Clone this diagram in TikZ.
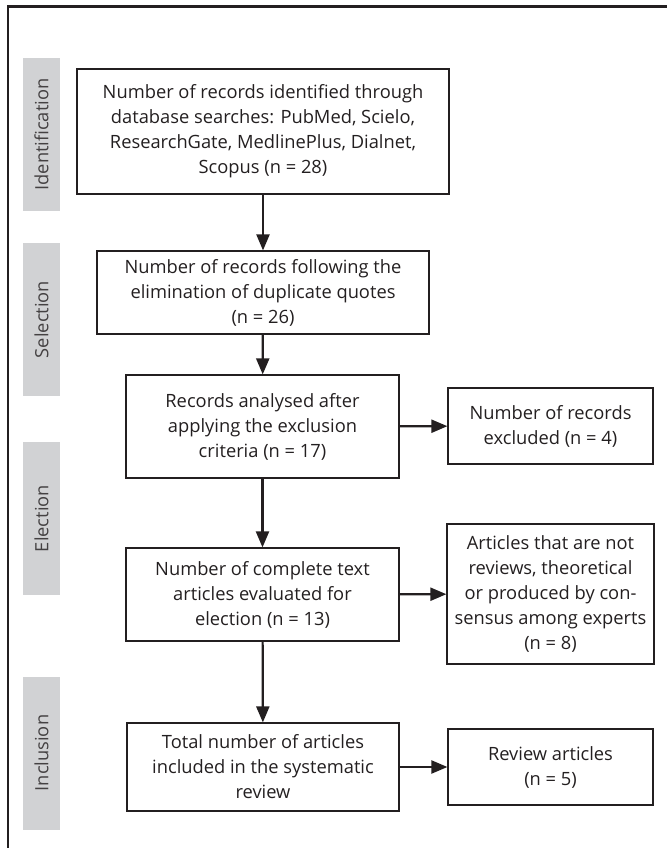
\documentclass[tikz,border=0pt]{standalone}
\usepackage{fontspec}
\setmainfont{Open Sans}
\usetikzlibrary{arrows.meta}
\definecolor{inkblack}{HTML}{231F20}
\definecolor{bargray}{HTML}{D1D2D4}
\tikzset{
  box/.style={draw=inkblack, line width=1.2pt, align=center, inner sep=0pt,
    text=inkblack, font=\fontsize{18.3}{25}\selectfont},
  phase/.style={fill=bargray, rotate=90, inner sep=0pt, minimum width=153pt,
    minimum height=37pt, text=inkblack!85, font=\fontsize{18.3}{25}\selectfont},
  flow/.style={-{Triangle[length=16pt,width=13pt]}, line width=2.2pt, draw=inkblack}
}
\begin{document}
\begin{tikzpicture}[x=1pt,y=-1pt]
  \useasboundingbox (0,0) rectangle (667,848);
  % frame
  \draw[inkblack, line width=2.5pt] (8,848) -- (8,6.5) -- (667,6.5);
  % phases
  \node[phase] (ident) at (41.5,134.5) {Identification};
  \node[phase] (select) at (41.5,319.5) {Selection};
  \node[phase] (elect) at (41.5,518.5) {Election};
  \node[phase] (incl) at (41.5,753) {Inclusion};
  % main column
  \node[box, minimum width=372pt, minimum height=125pt] (found) at (263,131.5)
    {Number of records identified through\\database searches: PubMed, Scielo,\\ResearchGate, MedlinePlus, Dialnet,\\Scopus (n = 28)};
  \node[box, minimum width=332pt, minimum height=83pt] (nodup) at (263,292.5)
    {Number of records following the\\elimination of duplicate quotes\\(n = 26)};
  \node[box, minimum width=273pt, minimum height=103pt] (screen) at (262.5,426.5)
    {Records analysed after\\applying the exclusion\\criteria (n = 17)};
  \node[box, minimum width=273pt, minimum height=93pt] (full) at (262.5,594.5)
    {Number of complete text\\articles evaluated for\\election (n = 13)};
  \node[box, minimum width=272pt, minimum height=88pt] (total) at (263,767)
    {Total number of articles\\included in the systematic\\review};
  % side column
  \node[box, minimum width=205pt, minimum height=76pt] (excl) at (550.5,426)
    {Number of records\\excluded (n = 4)};
  \node[box, minimum width=207pt, minimum height=140pt] (notrev) at (550.5,594)
    {Articles that are not\\reviews, theoretical\\or produced by con-\\sensus among experts\\(n = 8)};
  \node[box, minimum width=205pt, minimum height=76pt] (review) at (550.5,767)
    {Review articles\\(n = 5)};
  \begin{scope}[flow]
    \draw (found) to (nodup);
    \draw (nodup) to (screen);
    \draw (screen) to (full);
    \draw (full) to (total);
    \draw (screen) to (excl);
    \draw (full) to (notrev);
    \draw (total) to (review);
  \end{scope}
\end{tikzpicture}
\end{document}
